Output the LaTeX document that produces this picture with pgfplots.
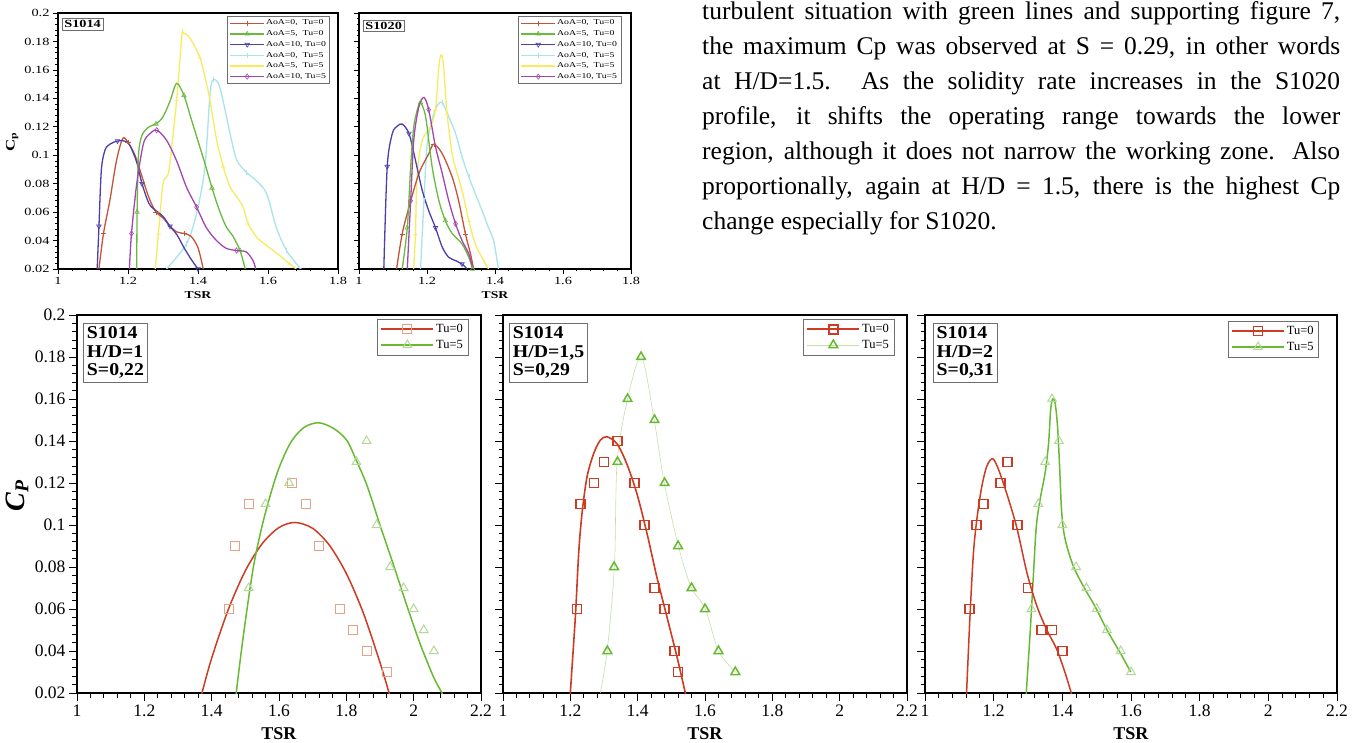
\documentclass[border=0pt]{standalone}
\usepackage{pgfplots}
\pgfplotsset{compat=1.18}
\usepackage{fontspec}
\setmainfont{Liberation Serif}
\newfontfamily\topfont[FakeStretch=1.3]{Liberation Serif}
\newfontfamily\lblfont[FakeStretch=1.1]{Liberation Serif}

\definecolor{cRed}{RGB}{205,60,34}
\definecolor{cRedF}{RGB}{232,160,135}
\definecolor{cGreen}{RGB}{104,186,50}
\definecolor{cGreenF}{RGB}{180,216,150}
\definecolor{cGreenL}{RGB}{196,224,170}
\definecolor{tA}{RGB}{196,84,56}
\definecolor{tB}{RGB}{104,186,64}
\definecolor{tC}{RGB}{76,64,168}
\definecolor{tD}{RGB}{170,228,232}
\definecolor{tE}{RGB}{246,236,96}
\definecolor{tF}{RGB}{164,70,176}
\definecolor{frameG}{RGB}{110,110,110}

\pgfplotsset{
  common/.style={
    scale only axis, xmin=1, ymin=0.02, ymax=0.2,
    tick align=outside, xtick pos=bottom, ytick pos=left,
    minor x tick num=4, minor y tick num=4,
    ytick={0.02,0.04,0.06,0.08,0.1,0.12,0.14,0.16,0.18,0.2},
    /pgf/number format/assume math mode=true,
    scaled ticks=false,
    yticklabel style={/pgf/number format/fixed, /pgf/number format/precision=2},
    xticklabel style={/pgf/number format/fixed, /pgf/number format/precision=1},
  },
  bot/.style={common, height=378pt, xmax=2.2,
    xtick={1,1.2,1.4,1.6,1.8,2,2.2},
    major tick length=8pt, minor tick length=4.5pt,
    axis line style={line width=1.6pt},
    tick style={black, line width=0.9pt},
    tick label style={font=\fontsize{17.5}{17.5}\selectfont},
    xlabel={\textbf{TSR}},
    xlabel style={font=\fontsize{18}{18}\selectfont, at={(axis description cs:0.5,-0.1217)}, anchor=base},
    legend style={draw=frameG, fill=white,
      font=\fontsize{12.5}{12.5}\selectfont, anchor=north east, cells={anchor=west},
      inner sep=3pt, row sep=2pt, nodes={inner sep=2pt}},
    legend image code/.code={\draw[##1, mark=none] (0pt,0pt) -- (52pt,0pt); \draw[mark repeat=2,mark phase=2,##1, draw opacity=0] plot coordinates {(0pt,0pt) (26pt,0pt) (52pt,0pt)};},
  },
  top/.style={common, height=256pt, xmax=1.8,
    xtick={1,1.2,1.4,1.6,1.8},
    major tick length=5pt, minor tick length=2.5pt,
    axis line style={line width=1.3pt},
    tick style={black, line width=0.7pt},
    tick label style={font=\topfont\fontsize{11}{11}\selectfont},
    xlabel={\textbf{TSR}},
    xlabel style={font=\topfont\fontsize{10.5}{10.5}\selectfont, at={(axis description cs:0.5,-0.115)}, anchor=base},
    legend style={draw=frameG, fill=white,
      font=\topfont\fontsize{7.5}{7.5}\selectfont, anchor=north east, cells={anchor=west},
      inner sep=2.5pt, row sep=1.8pt, nodes={inner sep=1.2pt}},
    legend image code/.code={\draw[##1, mark=none] (0pt,0pt) -- (34pt,0pt); \draw[mark repeat=2,mark phase=2,##1, draw opacity=0] plot coordinates {(0pt,0pt) (17pt,0pt) (34pt,0pt)};},
  },
  tl/.style={smooth, line width=1.3pt, mark repeat=4, mark phase=2, mark size=2.6pt, mark options={solid, line width=0.6pt}},
}

\begin{document}
\begin{tikzpicture}[x=1pt,y=1pt]
\useasboundingbox (0,0) rectangle (1363,742);
\fill[white] (0,0) rectangle (1363,742);

% ---------------- paragraph ----------------
\begin{scope}[every node/.style={anchor=base west, inner sep=0pt, font=\fontsize{25.5}{35}\selectfont}]
\node at (702,722) {\makebox[638pt][s]{turbulent situation with green lines and supporting figure 7,}};
\node at (702,687) {\makebox[638pt][s]{the maximum Cp was observed at S = 0.29, in other words}};
\node at (702,652) {\makebox[638pt][s]{at H/D=1.5. As the solidity rate increases in the S1020}};
\node at (702,617) {\makebox[638pt][s]{profile, it shifts the operating range towards the lower}};
\node at (702,582) {\makebox[638pt][s]{region, although it does not narrow the working zone. Also}};
\node at (702,547) {\makebox[638pt][s]{proportionally, again at H/D = 1.5, there is the highest Cp}};
\node at (702,512) {change especially for S1020.};
\end{scope}

% ---------------- top chart 1: S1014 ----------------
\begin{axis}[top, at={(58pt,473pt)}, anchor=south west, width=280pt,
  ylabel={\textbf{C\textsubscript{p}}},
  ylabel style={font=\topfont\fontsize{13}{13}\selectfont, at={(axis description cs:-0.164,0.496)}, anchor=center},
  legend style={at={(axis description cs:0.971,0.988)}}]
\addlegendimage{tA, line width=1.3pt, mark=+, mark size=2.6pt, mark options={solid,line width=0.6pt,draw opacity=1}}
\addlegendentry{AoA=0,\ \ Tu=0}
\addlegendimage{tB, line width=1.3pt, mark=triangle, mark size=2.6pt, mark options={solid,line width=0.6pt,draw opacity=1}}
\addlegendentry{AoA=5,\ \ Tu=0}
\addlegendimage{tC, line width=1.3pt, mark=triangle, mark size=2.6pt, mark options={solid,line width=0.6pt,rotate=180,draw opacity=1}}
\addlegendentry{AoA=10, Tu=0}
\addlegendimage{tD, line width=1.3pt, mark=|, mark size=2.6pt, mark options={solid,line width=0.6pt,draw opacity=1}}
\addlegendentry{AoA=0,\ \ Tu=5}
\addlegendimage{tE, line width=1.3pt, mark=Mercedes star, mark size=2.6pt, mark options={solid,line width=0.6pt,draw opacity=1}}
\addlegendentry{AoA=5,\ \ Tu=5}
\addlegendimage{tF, line width=1.3pt, mark=diamond, mark size=2.6pt, mark options={solid,line width=0.6pt,draw opacity=1}}
\addlegendentry{AoA=10, Tu=5}
\addplot[tD, tl, mark=|, forget plot] coordinates {(1.31,0.02) (1.367,0.0376) (1.396,0.059) (1.42,0.092) (1.434,0.142) (1.443,0.153) (1.462,0.148) (1.491,0.116) (1.51,0.097) (1.538,0.088) (1.567,0.082) (1.596,0.073) (1.624,0.049) (1.653,0.033) (1.69,0.021) (1.70,0.019)};
\addplot[tE, tl, mark=Mercedes star, forget plot] coordinates {(1.278,0.02) (1.287,0.045) (1.30,0.08) (1.315,0.087) (1.325,0.106) (1.339,0.139) (1.354,0.184) (1.358,0.186) (1.377,0.1824) (1.405,0.169) (1.42,0.155) (1.434,0.139) (1.453,0.111) (1.472,0.092) (1.491,0.078) (1.51,0.071) (1.529,0.0635) (1.543,0.052) (1.567,0.0425) (1.596,0.0365) (1.634,0.0294) (1.662,0.0235) (1.681,0.02)};
\addplot[tA, tl, mark=+, forget plot] coordinates {(1.117,0.02) (1.13,0.045) (1.148,0.068) (1.167,0.096) (1.185,0.1118) (1.20,0.109) (1.22,0.10) (1.24,0.085) (1.26,0.07) (1.28,0.06) (1.30,0.056) (1.32,0.05) (1.34,0.046) (1.36,0.045) (1.38,0.043) (1.40,0.035) (1.415,0.02)};
\addplot[tC, tl, mark=triangle, mark options={solid,line width=0.6pt,rotate=180}, forget plot] coordinates {(1.112,0.02) (1.117,0.05) (1.124,0.09) (1.135,0.104) (1.15,0.108) (1.17,0.11) (1.19,0.11) (1.205,0.107) (1.225,0.095) (1.24,0.08) (1.26,0.066) (1.28,0.061) (1.30,0.057) (1.32,0.05) (1.34,0.044) (1.36,0.035) (1.38,0.027) (1.40,0.02)};
\addplot[tB, tl, mark=triangle, forget plot] coordinates {(1.225,0.02) (1.226,0.06) (1.23,0.10) (1.24,0.114) (1.26,0.12) (1.28,0.122) (1.30,0.127) (1.32,0.138) (1.339,0.1505) (1.36,0.142) (1.38,0.126) (1.40,0.11) (1.42,0.094) (1.44,0.077) (1.46,0.062) (1.48,0.05) (1.50,0.043) (1.52,0.033) (1.535,0.02)};
\addplot[tF, tl, mark=diamond, forget plot] coordinates {(1.204,0.02) (1.21,0.045) (1.225,0.08) (1.244,0.108) (1.262,0.115) (1.282,0.1176) (1.31,0.1106) (1.339,0.096) (1.367,0.0776) (1.396,0.0635) (1.424,0.049) (1.453,0.040) (1.481,0.0345) (1.51,0.033) (1.538,0.032) (1.557,0.026) (1.565,0.02)};
\node[draw=frameG, line width=0.6pt, fill=white, anchor=north west, inner sep=2pt, font=\topfont\bfseries\fontsize{11}{11}\selectfont] at (axis description cs:0.0143,0.98) {S1014};
\end{axis}

% ---------------- top chart 2: S1020 ----------------
\begin{axis}[top, at={(359pt,473pt)}, anchor=south west, width=272pt,
  yticklabels={},
  legend style={at={(axis description cs:0.963,0.988)}}]
\addlegendimage{tA, line width=1.3pt, mark=+, mark size=2.6pt, mark options={solid,line width=0.6pt,draw opacity=1}}
\addlegendentry{AoA=0,\ \ Tu=0}
\addlegendimage{tB, line width=1.3pt, mark=triangle, mark size=2.6pt, mark options={solid,line width=0.6pt,draw opacity=1}}
\addlegendentry{AoA=5,\ \ Tu=0}
\addlegendimage{tC, line width=1.3pt, mark=triangle, mark size=2.6pt, mark options={solid,line width=0.6pt,rotate=180,draw opacity=1}}
\addlegendentry{AoA=10, Tu=0}
\addlegendimage{tD, line width=1.3pt, mark=|, mark size=2.6pt, mark options={solid,line width=0.6pt,draw opacity=1}}
\addlegendentry{AoA=0,\ \ Tu=5}
\addlegendimage{tE, line width=1.3pt, mark=Mercedes star, mark size=2.6pt, mark options={solid,line width=0.6pt,draw opacity=1}}
\addlegendentry{AoA=5,\ \ Tu=5}
\addlegendimage{tF, line width=1.3pt, mark=diamond, mark size=2.6pt, mark options={solid,line width=0.6pt,draw opacity=1}}
\addlegendentry{AoA=10, Tu=5}
\addplot[tD, tl, mark=|, forget plot] coordinates {(1.181,0.02) (1.191,0.068) (1.20,0.106) (1.215,0.125) (1.23,0.135) (1.245,0.137) (1.264,0.127) (1.284,0.1153) (1.303,0.099) (1.323,0.0847) (1.342,0.073) (1.362,0.061) (1.381,0.049) (1.396,0.040) (1.41,0.02)};
\addplot[tE, tl, mark=Mercedes star, forget plot] coordinates {(1.161,0.02) (1.166,0.0447) (1.171,0.087) (1.186,0.1106) (1.21,0.12) (1.225,0.132) (1.235,0.1624) (1.242,0.1706) (1.249,0.1624) (1.259,0.1294) (1.274,0.101) (1.289,0.087) (1.303,0.0753) (1.323,0.054) (1.342,0.0376) (1.362,0.028) (1.381,0.02)};
\addplot[tA, tl, mark=+, forget plot] coordinates {(1.1105,0.02) (1.127,0.0447) (1.147,0.0635) (1.176,0.087) (1.205,0.101) (1.22,0.1078) (1.245,0.101) (1.274,0.0847) (1.293,0.068) (1.313,0.0447) (1.328,0.0306) (1.337,0.02)};
\addplot[tC, tl, mark=triangle, mark options={solid,line width=0.6pt,rotate=180}, forget plot] coordinates {(1.073,0.02) (1.083,0.092) (1.098,0.1153) (1.113,0.1205) (1.127,0.1219) (1.147,0.1153) (1.166,0.0965) (1.186,0.0753) (1.205,0.061) (1.225,0.049) (1.245,0.0353) (1.264,0.0282) (1.284,0.0259) (1.303,0.0235) (1.318,0.02)};
\addplot[tB, tl, mark=triangle, forget plot] coordinates {(1.127,0.02) (1.142,0.049) (1.152,0.092) (1.161,0.12) (1.174,0.134) (1.181,0.137) (1.196,0.127) (1.215,0.092) (1.235,0.068) (1.254,0.054) (1.274,0.045) (1.303,0.0376) (1.323,0.0282) (1.334,0.02)};
\addplot[tF, tl, mark=diamond, forget plot] coordinates {(1.142,0.02) (1.152,0.068) (1.161,0.1106) (1.176,0.134) (1.191,0.1406) (1.205,0.132) (1.225,0.106) (1.245,0.087) (1.264,0.068) (1.284,0.0518) (1.303,0.04) (1.323,0.0306) (1.335,0.02)};
\node[draw=frameG, line width=0.6pt, fill=white, anchor=north west, inner sep=2pt, font=\topfont\bfseries\fontsize{11}{11}\selectfont] at (axis description cs:0.015,0.973) {S1020};
\end{axis}

% ---------------- bottom panel 1 ----------------
\begin{axis}[bot, at={(77pt,49pt)}, anchor=south west, width=404pt,
  ylabel={\textbf{\textit{C}}\textsubscript{\textbf{\textit{P}}}},
  ylabel style={font=\fontsize{28}{28}\selectfont, at={(axis description cs:-0.1485,0.521)}, anchor=center},
  legend style={at={(axis description cs:0.968,0.989)}}]
\addlegendimage{cRed, line width=1.6pt, mark=square, mark size=4.5pt, mark options={solid, draw=cRedF, line width=1pt, draw opacity=1}}
\addlegendentry{Tu=0}
\addlegendimage{cGreen, line width=1.6pt, mark=triangle, mark size=5pt, mark options={solid, draw=cGreenF, line width=1pt, draw opacity=1}}
\addlegendentry{Tu=5}
\addplot[cRed, smooth, line width=1.5pt, forget plot] coordinates {(1.355,0.0115) (1.371,0.02) (1.40,0.0366) (1.45,0.0600) (1.50,0.0782) (1.55,0.0911) (1.60,0.0988) (1.648,0.1012) (1.70,0.0984) (1.75,0.0903) (1.80,0.0769) (1.85,0.0583) (1.90,0.0345) (1.927,0.02) (1.942,0.0115)};
\addplot[cGreen, smooth, line width=1.5pt, forget plot] coordinates {(1.468,0.01) (1.473,0.02) (1.495,0.0483) (1.524,0.080) (1.554,0.1023) (1.594,0.1245) (1.633,0.1388) (1.673,0.1463) (1.717,0.1487) (1.762,0.146) (1.801,0.1404) (1.829,0.131) (1.861,0.119) (1.90,0.100) (1.94,0.081) (1.979,0.062) (2.019,0.0435) (2.059,0.0276) (2.084,0.02) (2.09,0.017)};
\addplot[only marks, mark=square, mark size=4.5pt, mark options={draw=cRedF, line width=1pt}, forget plot] coordinates {(1.45,0.06) (1.47,0.09) (1.51,0.11) (1.64,0.12) (1.68,0.11) (1.72,0.09) (1.78,0.06) (1.82,0.05) (1.86,0.04) (1.92,0.03)};
\addplot[only marks, mark=triangle, mark size=5pt, mark options={draw=cGreenF, line width=1pt}, forget plot] coordinates {(1.51,0.07) (1.56,0.11) (1.63,0.12) (1.83,0.13) (1.86,0.14) (1.89,0.10) (1.93,0.08) (1.97,0.07) (2.00,0.06) (2.03,0.05) (2.06,0.04)};
\node[draw=frameG, line width=0.8pt, fill=white, anchor=north west, align=left, inner sep=3.5pt, font=\lblfont\bfseries\fontsize{18}{18.5}\selectfont] at (axis description cs:0.015,0.979) {S1014\\H/D=1\\S=0,22};
\end{axis}

% ---------------- bottom panel 2 ----------------
\begin{axis}[bot, at={(503pt,49pt)}, anchor=south west, width=404pt,
  yticklabels={},
  legend style={at={(axis description cs:0.968,0.989)}}]
\addlegendimage{cRed, line width=1.6pt, mark=square, mark size=4.5pt, mark options={solid, line width=1.5pt, draw opacity=1}}
\addlegendentry{Tu=0}
\addlegendimage{cGreenL, line width=0.6pt, mark=triangle, mark size=5pt, mark options={solid, draw=cGreen, line width=1.5pt, draw opacity=1}}
\addlegendentry{Tu=5}
\addplot[cGreenL, smooth, line width=0.6pt, forget plot] coordinates {(1.289,0.02) (1.31,0.0406) (1.331,0.0807) (1.339,0.13) (1.37,0.16) (1.411,0.18) (1.449,0.15) (1.479,0.12) (1.521,0.09) (1.558,0.0707) (1.601,0.06) (1.64,0.04) (1.69,0.03)};
\addplot[cRed, smooth, line width=1.6pt, forget plot] coordinates {(1.197,0.01) (1.2,0.02) (1.215,0.0565) (1.2248,0.0866) (1.2347,0.1056) (1.2495,0.1229) (1.2693,0.134) (1.2891,0.1404) (1.309,0.142) (1.339,0.1386) (1.368,0.129) (1.398,0.1148) (1.428,0.0958) (1.457,0.0752) (1.487,0.0562) (1.517,0.0371) (1.5416,0.02) (1.548,0.016)};
\addplot[only marks, mark=square, mark size=4.5pt, mark options={draw=cRed, line width=1.5pt}, forget plot] coordinates {(1.22,0.06) (1.23,0.11) (1.27,0.12) (1.30,0.13) (1.34,0.14) (1.39,0.12) (1.42,0.10) (1.45,0.07) (1.48,0.06) (1.51,0.04) (1.52,0.03)};
\addplot[only marks, mark=triangle, mark size=5pt, mark options={draw=cGreen, line width=1.5pt}, forget plot] coordinates {(1.31,0.04) (1.33,0.08) (1.34,0.13) (1.37,0.16) (1.41,0.18) (1.45,0.15) (1.48,0.12) (1.52,0.09) (1.56,0.07) (1.60,0.06) (1.64,0.04) (1.69,0.03)};
\node[draw=frameG, line width=0.8pt, fill=white, anchor=north west, align=left, inner sep=3.5pt, font=\lblfont\bfseries\fontsize{18}{18.5}\selectfont] at (axis description cs:0.015,0.979) {S1014\\H/D=1,5\\S=0,29};
\end{axis}

% ---------------- bottom panel 3 ----------------
\begin{axis}[bot, at={(925pt,49pt)}, anchor=south west, width=412pt,
  yticklabels={},
  legend style={at={(axis description cs:0.956,0.984)}}]
\addlegendimage{cRed, line width=1.6pt, mark=square, mark size=4.5pt, mark options={solid, line width=1.5pt, draw opacity=1}}
\addlegendentry{Tu=0}
\addlegendimage{cGreen, line width=1.6pt, mark=triangle, mark size=5pt, mark options={solid, draw=cGreenF, line width=1pt, draw opacity=1}}
\addlegendentry{Tu=5}
\addplot[cGreen, smooth, line width=1.5pt, forget plot] coordinates {(1.293,0.01) (1.295,0.02) (1.306,0.048) (1.316,0.077) (1.324,0.099) (1.335,0.112) (1.35,0.125) (1.36,0.139) (1.366,0.155) (1.372,0.160) (1.379,0.158) (1.386,0.147) (1.392,0.128) (1.397,0.109) (1.403,0.098) (1.413,0.090) (1.433,0.080) (1.462,0.0706) (1.496,0.061) (1.53,0.050) (1.569,0.039) (1.599,0.030)};
\addplot[cRed, smooth, line width=1.5pt, forget plot] coordinates {(1.118,0.01) (1.121,0.02) (1.131,0.0566) (1.141,0.0865) (1.151,0.1027) (1.165,0.118) (1.18,0.128) (1.197,0.1316) (1.214,0.1265) (1.238,0.115) (1.267,0.099) (1.297,0.0772) (1.326,0.0613) (1.355,0.050) (1.384,0.0407) (1.408,0.0296) (1.426,0.02) (1.43,0.017)};
\addplot[only marks, mark=square, mark size=4.5pt, mark options={draw=cRed, line width=1.5pt}, forget plot] coordinates {(1.13,0.06) (1.15,0.10) (1.17,0.11) (1.22,0.12) (1.24,0.13) (1.27,0.10) (1.30,0.07) (1.34,0.05) (1.37,0.05) (1.40,0.04)};
\addplot[only marks, mark=triangle, mark size=5pt, mark options={draw=cGreenF, line width=1pt}, forget plot] coordinates {(1.31,0.06) (1.33,0.11) (1.35,0.13) (1.37,0.16) (1.39,0.14) (1.40,0.10) (1.44,0.08) (1.47,0.07) (1.50,0.06) (1.53,0.05) (1.57,0.04) (1.60,0.03)};
\node[draw=frameG, line width=0.8pt, fill=white, anchor=north west, align=left, inner sep=3.5pt, font=\lblfont\bfseries\fontsize{18}{18.5}\selectfont] at (axis description cs:0.019,0.979) {S1014\\H/D=2\\S=0,31};
\end{axis}
\end{tikzpicture}
\end{document}
